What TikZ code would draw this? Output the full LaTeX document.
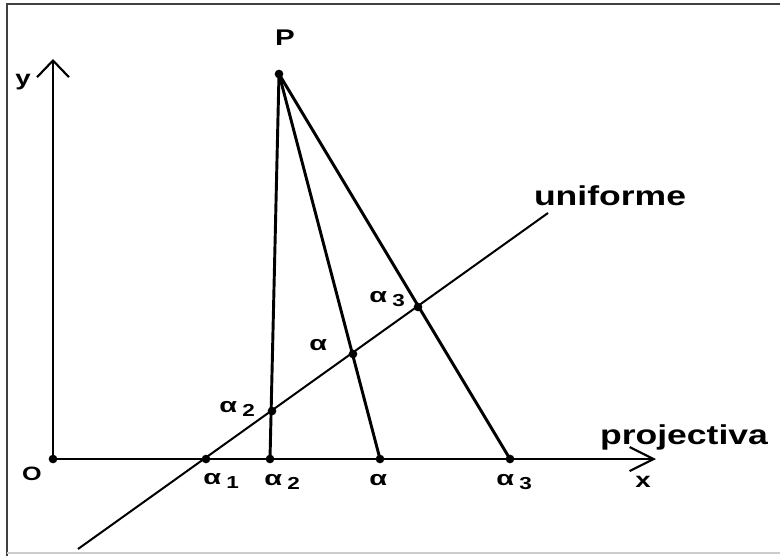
\documentclass[tikz,border=0pt]{standalone}
\usepackage{fontspec}
\setmainfont{Liberation Sans}
\newfontfamily\wide[FakeStretch=1.3]{Liberation Sans}
\newfontfamily\walpha[FakeStretch=1.4]{Liberation Sans}
\usetikzlibrary{arrows.meta}
\newcommand\alab[1]{{\walpha\bfseries\fontsize{15.5}{16}\selectfont α}\hspace{4pt}\raisebox{-3pt}{\wide\bfseries\fontsize{13}{14}\selectfont #1}}
\newcommand\alone{{\walpha\bfseries\fontsize{15.5}{16}\selectfont α}}
\begin{document}
\begin{tikzpicture}[x=0.75pt,y=-0.75pt,
  dot/.style={circle,fill=black,inner sep=0pt,minimum size=6.5pt},
  lbl/.style={inner sep=0pt,anchor=base west},
  word/.style={inner sep=0pt,font=\wide\bfseries\fontsize{20.5}{22}\selectfont},
  axis/.style={line width=1.6pt},
  ray/.style={line width=2.2pt},
  frame/.style={line width=1.3pt,draw=black!75}]
\useasboundingbox (0,0) rectangle (780,556);
% frame
\draw[frame] (7,556) -- (7,4) -- (780,4);
\draw[line width=1pt,draw=black!20] (7,553) -- (780,553);
% points
\coordinate (O) at (53,459);
\coordinate (Y) at (53,59);
\coordinate (X) at (656,459);
\coordinate (P) at (279,74);
\coordinate (A1) at (206,459);
\coordinate (A2) at (270,459);
\coordinate (A) at (380,459);
\coordinate (A3) at (510,459);
\coordinate (U0) at (78,549);
\coordinate (U1) at (548,213);
\coordinate (B2) at (272,411);
\coordinate (B) at (353,354);
\coordinate (B3) at (418,307);
% axes
\draw[axis,-{Straight Barb[length=12.5pt,width=24pt,line width=1.6pt]}] (O) -- (Y);
\draw[axis,-{Straight Barb[length=18pt,width=18pt,line width=1.6pt]}] (O) -- (X);
% uniform line
\draw[line width=1.5pt] (U0) -- (U1);
% rays
\draw[ray] (P) -- (A2);
\draw[ray] (P) -- (A);
\draw[ray] (P) -- (A3);
% dots
\foreach \p in {O,P,A1,A2,A,A3,B2,B,B3} \node[dot] (d\p) at (\p) {};
% labels
\node[word,font=\wide\bfseries\fontsize{17}{18}\selectfont] (lP) at (285,38) {P};
\node[word,font=\wide\bfseries\fontsize{16}{16}\selectfont] (ly) at (23,82) {y};
\node[word,font=\wide\bfseries\fontsize{14.5}{16}\selectfont] (lO) at (32,474) {O};
\node[word,font=\wide\bfseries\fontsize{16}{16}\selectfont] (lx) at (643,482) {x};
\node[word,anchor=base] (lproj) at (684,444) {projectiva};
\node[word,anchor=base] (lunif) at (610,205) {uniforme};
\node[lbl] (l1) at (203,484) {\alab{1}};
\node[lbl] (l2) at (264,485) {\alab{2}};
\node[lbl] (l0) at (369,485) {\alone};
\node[lbl] (l3) at (496,485) {\alab{3}};
\node[lbl] (m2) at (219,412) {\alab{2}};
\node[lbl] (m0) at (309,350) {\alone};
\node[lbl] (m3) at (369,302) {\alab{3}};
\end{tikzpicture}
\end{document}
